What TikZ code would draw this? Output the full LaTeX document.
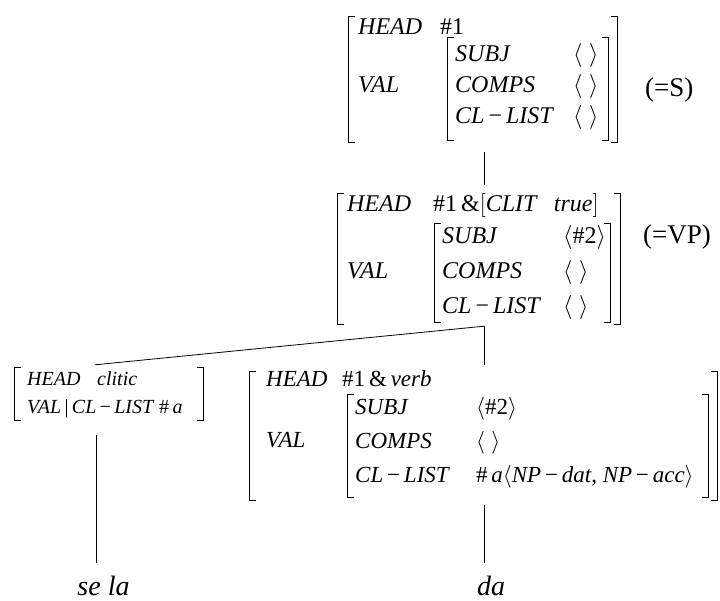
\RequirePackage{fix-cm}
\documentclass[tikz,border=0pt]{standalone}
\usepackage{fontspec}
\setmainfont{Liberation Serif}

% feature-structure helpers
\newcommand{\ft}[1]{\textit{#1}}
\newcommand{\fmin}{\,−\,}
\newcommand{\el}{$\bigl\langle\;\bigr\rangle$}
\newcommand{\tl}[1]{$\bigl\langle$#1$\bigr\rangle$}
\newcommand{\fsbrackets}[1]{%
  \draw[bracket] ([xshift=6pt]#1.north west) -- (#1.north west) -- (#1.south west) -- ([xshift=6pt]#1.south west);
  \draw[bracket] ([xshift=-6pt]#1.north east) -- (#1.north east) -- (#1.south east) -- ([xshift=-6pt]#1.south east);}

\tikzset{
  txt/.style={inner sep=0pt, anchor=base west},
  frame/.style={inner sep=0pt},
  catlabel/.style={inner sep=0pt, anchor=base west, font=\fontsize{27}{32}\selectfont},
  word/.style={inner sep=0pt, anchor=base, font=\fontsize{28}{33}\selectfont\itshape},
  bracket/.style={line width=0.8pt},
  branch/.style={line width=0.8pt},
}

\begin{document}
\begin{tikzpicture}[x=1pt, y=-1pt]
  \useasboundingbox (0,0) rectangle (720,601);

  % S
  \node[frame, minimum width=268pt, minimum height=125pt] (s) at (483,79.5) {};
  \node[frame, minimum width=160pt, minimum height=102pt] (s-val-v) at (528,89) {};
  \begin{scope}[font=\fontsize{24}{31}\selectfont]
    \node[txt] (s-head) at (358,35) {\ft{HEAD}};
    \node[txt] (s-head-v) at (440,35) {\#1};
    \node[txt] (s-val) at (358,93) {\ft{VAL}};
    \node[txt] (s-rows) at (455,62) {\begin{tabular}[t]{@{}l@{\hspace{19pt}}l@{}}
      \ft{SUBJ} & \el \\ \ft{COMPS} & \el \\ \ft{CL}\fmin\ft{LIST} & \el \end{tabular}};
  \end{scope}
  \fsbrackets{s}
  \fsbrackets{s-val-v}
  \node[catlabel] (s-cat) at (645,97) {(=S)};

  % VP
  \node[frame, minimum width=282pt, minimum height=130pt] (vp) at (479,259) {};
  \node[frame, minimum width=175pt, minimum height=98pt] (vp-val-v) at (522.5,273) {};
  \begin{scope}[font=\fontsize{24}{35}\selectfont]
    \node[txt] (vp-head) at (347,212) {\ft{HEAD}};
    \node[txt] (vp-head-v) at (433,212) {\#1\,\&$\bigl[$\ft{CLIT}\hspace{16pt}\ft{true}$\bigr]$};
    \node[txt] (vp-val) at (347,279) {\ft{VAL}};
    \node[txt] (vp-rows) at (442,244) {\begin{tabular}[t]{@{}l@{\hspace{22pt}}l@{}}
      \ft{SUBJ} & \tl{\#2} \\ \ft{COMPS} & \el \\ \ft{CL}\fmin\ft{LIST} & \el \end{tabular}};
  \end{scope}
  \fsbrackets{vp}
  \fsbrackets{vp-val-v}
  \node[catlabel] (vp-cat) at (643,244) {(=VP)};

  % clitic
  \node[frame, minimum width=188pt, minimum height=52pt] (cl) at (109,394) {};
  \begin{scope}[font=\fontsize{20}{28}\selectfont]
    \node[txt] (cl-head) at (27,385) {\ft{HEAD}};
    \node[txt] (cl-head-v) at (97,385) {\ft{clitic}};
    \node[txt] (cl-val) at (27,413) {\ft{VAL}\,|\,\ft{CL}\fmin\ft{LIST}};
    \node[txt] (cl-val-v) at (159,413) {\#\,\ft{a}};
  \end{scope}
  \fsbrackets{cl}

  % verb
  \node[frame, minimum width=467pt, minimum height=128pt] (v) at (483.5,436) {};
  \node[frame, minimum width=360pt, minimum height=102pt] (v-val-v) at (528,446) {};
  \begin{scope}[font=\fontsize{23}{34}\selectfont]
    \node[txt] (v-head) at (266,387) {\ft{HEAD}};
    \node[txt] (v-head-v) at (342,387) {\#1\,\&\,\ft{verb}};
    \node[txt] (v-val) at (266,447) {\ft{VAL}};
    \node[txt] (v-rows) at (355,414) {\begin{tabular}[t]{@{}l@{\hspace{26pt}}l@{}}
      \ft{SUBJ} & \tl{\#2} \\ \ft{COMPS} & \el \\
      \ft{CL}\fmin\ft{LIST} & \#\,\ft{a}\tl{\ft{NP}\fmin\ft{dat}, \ft{NP}\fmin\ft{acc}} \end{tabular}};
  \end{scope}
  \fsbrackets{v}
  \fsbrackets{v-val-v}

  % words
  \node[word] (se-la) at (103.5,595) {se la};
  \node[word] (da) at (491,595) {da};

  % branches
  \draw[branch] ([xshift=1pt, yshift=-10pt]s.south) -- ([xshift=5pt, yshift=9pt]vp.north);
  \draw[branch] ([xshift=5pt, yshift=-2pt]vp.south) -- ([xshift=0.5pt, yshift=7pt]v.north);
  \draw[branch] ([xshift=5pt, yshift=-2pt]vp.south) -- ([xshift=-14pt, yshift=3pt]cl.north);
  \draw[branch] ([xshift=-13pt, yshift=-15pt]cl.south) -- ([xshift=-7.5pt, yshift=12pt]se-la.north);
  \draw[branch] ([xshift=0.5pt, yshift=-5pt]v.south) -- ([xshift=-7pt, yshift=12pt]da.north);
\end{tikzpicture}
\end{document}
